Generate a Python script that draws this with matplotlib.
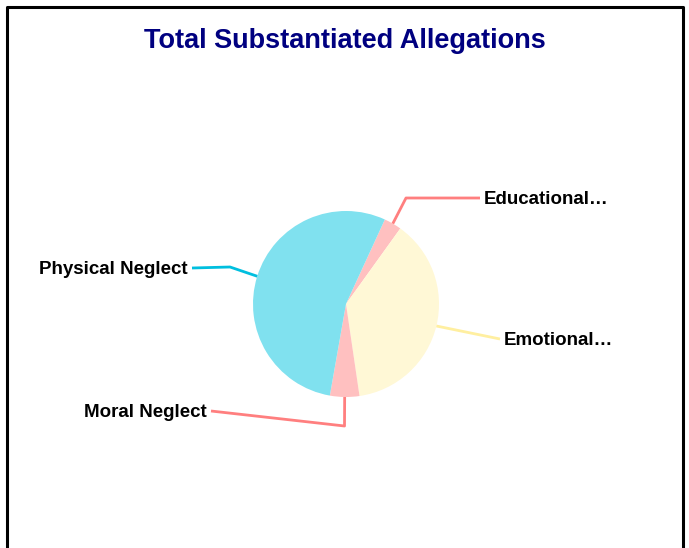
import numpy as np
import matplotlib
matplotlib.use('Agg')
import matplotlib.pyplot as plt

# slice data (clockwise from the top right)
categories = ["Educational", "Emotional", "Moral Neglect", "Physical Neglect"]
tick_labels = ["Educational\u2026", "Emotional\u2026", "Moral Neglect", "Physical Neglect"]
values = [3, 37, 5, 53]

slice_colors = ["#FFC0C0", "#FFF8D6", "#FFC0C0", "#80E1EF"]
line_colors = ["#FF7F7F", "#FFEFA0", "#FF7F7F", "#00BFDF"]

W, H = 689, 548
cx, cy, rad = 346, 304, 93
start = 65.3

# leader line elbows and label ends, in pixel coords (y down)
elbows = [(406, 198), (500, 339), (344.5, 426), (230, 267)]
ends = [(480, 198), (500, 339), (211, 411), (192, 268)]

fig = plt.figure(figsize=(W / 100, H / 100), dpi=100)
ax = fig.add_axes([0, 0, 1, 1])

wedges, _ = ax.pie(values, colors=slice_colors, startangle=start, counterclock=False,
                   center=(cx, H - cy), radius=rad, frame=True,
                   wedgeprops=dict(linewidth=0))
ax.set_xlim(0, W)
ax.set_ylim(0, H)
ax.set_aspect('equal')
ax.axis('off')

for ii, w in enumerate(wedges):
    mid = np.deg2rad((w.theta1 + w.theta2) / 2.0)
    x0 = cx + rad * np.cos(mid)
    y0 = cy - rad * np.sin(mid)
    xs = [x0, elbows[ii][0], ends[ii][0]]
    ys = [H - y0, H - elbows[ii][1], H - ends[ii][1]]
    ax.plot(xs, ys, color=line_colors[ii], linewidth=2, solid_capstyle='butt', zorder=1)
    if ends[ii][0] > cx:
        ax.text(ends[ii][0] + 4, H - ends[ii][1] - 6, tick_labels[ii], ha='left', va='baseline',
                fontsize=13.5, fontweight='bold', family='Liberation Sans', color='black')
    else:
        ax.text(ends[ii][0] - 4, H - ends[ii][1] - 6, tick_labels[ii], ha='right', va='baseline',
                fontsize=13.5, fontweight='bold', family='Liberation Sans', color='black')

ax.text(W / 2, H - 47.5, "Total Substantiated Allegations", ha='center', va='baseline',
        fontsize=19.5, fontweight='bold', family='Liberation Sans', color='#000080')

# outer frame (bottom edge falls outside the image)
ax.plot([7, 7, 683, 683], [0, H - 7, H - 7, 0], color='black', linewidth=2.2, zorder=5)

plt.savefig("out.png", dpi=100)
plt.close()
